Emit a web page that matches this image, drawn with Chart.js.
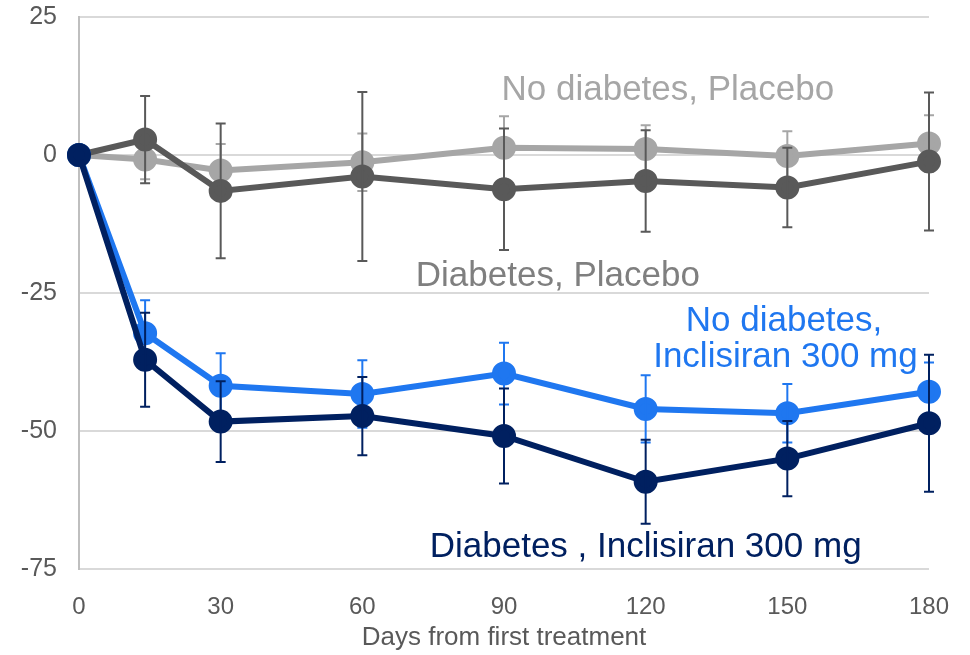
<!DOCTYPE html>
<html>
<head>
<meta charset="utf-8">
<script src="https://cdn.jsdelivr.net/npm/chart.js@4.4.1/dist/chart.umd.min.js"></script>
<style>
    html, body { margin: 0; padding: 0; background: #ffffff; }
    #wrap { width: 970px; height: 655px; position: relative; }
</style>
</head>
<body>
<div id="wrap"><canvas id="ldlChart"></canvas></div>
<script>
// Days of each visit
const days = [0, 14, 30, 60, 90, 120, 150, 180];

// Mean % change and error (+/-) per group
const noDiabPlacebo = [0, -0.8, -2.8, -1.3, 1.3, 1.1, -0.2, 2.1];
const noDiabPlaceboErr = [0, 3.6, 4.8, 5.2, 5.7, 4.3, 4.5, 5.1];

const diabPlacebo = [0, 2.8, -6.5, -3.9, -6.2, -4.7, -5.9, -1.2];
const diabPlaceboErr = [0, 7.9, 12.2, 15.3, 11.0, 9.2, 7.2, 12.5];

const noDiabIncl = [0, -32.3, -41.8, -43.3, -39.6, -46.0, -46.8, -42.9];
const noDiabInclErr = [0, 6.0, 5.9, 6.1, 5.6, 6.1, 5.3, 5.3];

const diabIncl = [0, -37.1, -48.3, -47.3, -50.9, -59.2, -55.0, -48.6];
const diabInclErr = [0, 8.5, 7.3, 7.1, 8.6, 7.6, 6.8, 12.4];

// Axis ticks
const xTicks = [0, 30, 60, 90, 120, 150, 180];
const yTicks = [-75, -50, -25, 0, 25];

const FONT = "'Liberation Sans', Arial, sans-serif";

function toPoints(values) {
    return days.map((d, i) => ({ x: d, y: values[i] }));
}

function makeSet(label, values, errors, color) {
    return {
        label: label,
        data: toPoints(values),
        errors: errors,
        borderColor: color,
        backgroundColor: color,
        pointBackgroundColor: color,
        pointBorderColor: color,
        borderWidth: 6,
        pointRadius: 9,
        pointHoverRadius: 9,
        tension: 0,
        clip: false
    };
}

// Error bars drawn with each series
const errorBars = {
    id: 'errorBars',
    afterDatasetDraw(chart, args) {
        const ds = chart.data.datasets[args.index];
        const yScale = chart.scales.y;
        const ctx = chart.ctx;
        ctx.save();
        ctx.strokeStyle = ds.borderColor;
        ctx.lineWidth = 2;
        args.meta.data.forEach((pt, i) => {
            const e = ds.errors[i];
            if (!e) return;
            const v = ds.data[i].y;
            const top = yScale.getPixelForValue(v + e);
            const bot = yScale.getPixelForValue(v - e);
            ctx.beginPath();
            ctx.moveTo(pt.x, top);
            ctx.lineTo(pt.x, bot);
            ctx.moveTo(pt.x - 5, top);
            ctx.lineTo(pt.x + 5, top);
            ctx.moveTo(pt.x - 5, bot);
            ctx.lineTo(pt.x + 5, bot);
            ctx.stroke();
        });
        ctx.restore();
    }
};

// Series names written inside the plot
const seriesLabels = {
    id: 'seriesLabels',
    afterDraw(chart) {
        const x = chart.scales.x, y = chart.scales.y, ctx = chart.ctx;
        const items = [
            { text: 'No diabetes, Placebo', d: 124.7, v: 10.0, color: '#A6A6A6' },
            { text: 'Diabetes, Placebo', d: 101.4, v: -23.7, color: '#7F7F7F' },
            { text: 'No diabetes,', d: 149.3, v: -31.9, color: '#1F77F0' },
            { text: 'Inclisiran 300 mg', d: 149.6, v: -38.4, color: '#1F77F0' },
            { text: 'Diabetes , Inclisiran 300 mg', d: 120, v: -72.8, color: '#002060' }
        ];
        ctx.save();
        ctx.font = '35px ' + FONT;
        ctx.textAlign = 'center';
        ctx.textBaseline = 'alphabetic';
        items.forEach(it => {
            ctx.fillStyle = it.color;
            ctx.fillText(it.text, x.getPixelForValue(it.d), y.getPixelForValue(it.v));
        });
        ctx.restore();
    }
};

document.addEventListener('DOMContentLoaded', function() {
    const ctx = document.getElementById('ldlChart');

    new Chart(ctx, {
        type: 'line',
        data: {
            datasets: [
                makeSet('Diabetes , Inclisiran 300 mg', diabIncl, diabInclErr, '#002060'),
                makeSet('No diabetes, Inclisiran 300 mg', noDiabIncl, noDiabInclErr, '#1F77F0'),
                makeSet('Diabetes, Placebo', diabPlacebo, diabPlaceboErr, '#595959'),
                makeSet('No diabetes, Placebo', noDiabPlacebo, noDiabPlaceboErr, '#A6A6A6')
            ]
        },
        options: {
            responsive: true,
            maintainAspectRatio: false,
            animation: false,
            layout: { padding: { top: 17, right: 41, left: 0, bottom: 0 } },
            plugins: {
                legend: { display: false },
                tooltip: { enabled: false }
            },
            scales: {
                x: {
                    type: 'linear',
                    min: 0,
                    max: 180,
                    afterBuildTicks: axis => { axis.ticks = xTicks.map(v => ({ value: v })); },
                    grid: { display: false, drawTicks: false },
                    border: { display: false },
                    ticks: {
                        padding: 24,
                        color: '#595959',
                        font: { family: FONT, size: 24 }
                    },
                    title: {
                        display: true,
                        text: 'Days from first treatment',
                        color: '#595959',
                        font: { family: FONT, size: 26 },
                        padding: { top: 0, bottom: 2 }
                    },
                    afterFit: scale => {
                        scale.height = 86;
                        scale.paddingLeft = 0;
                        scale.paddingRight = 0;
                    }
                },
                y: {
                    min: -75,
                    max: 25,
                    afterBuildTicks: axis => { axis.ticks = yTicks.map(v => ({ value: v })); },
                    grid: { color: '#D9D9D9', lineWidth: 2, drawTicks: false },
                    border: { display: true, color: '#BFBFBF', width: 2 },
                    ticks: {
                        padding: 22,
                        color: '#595959',
                        font: { family: FONT, size: 25 }
                    },
                    afterFit: scale => {
                        scale.width = 79;
                        scale.paddingTop = 0;
                        scale.paddingBottom = 0;
                    }
                }
            }
        },
        plugins: [errorBars, seriesLabels]
    });
});
</script>
</body>
</html>
